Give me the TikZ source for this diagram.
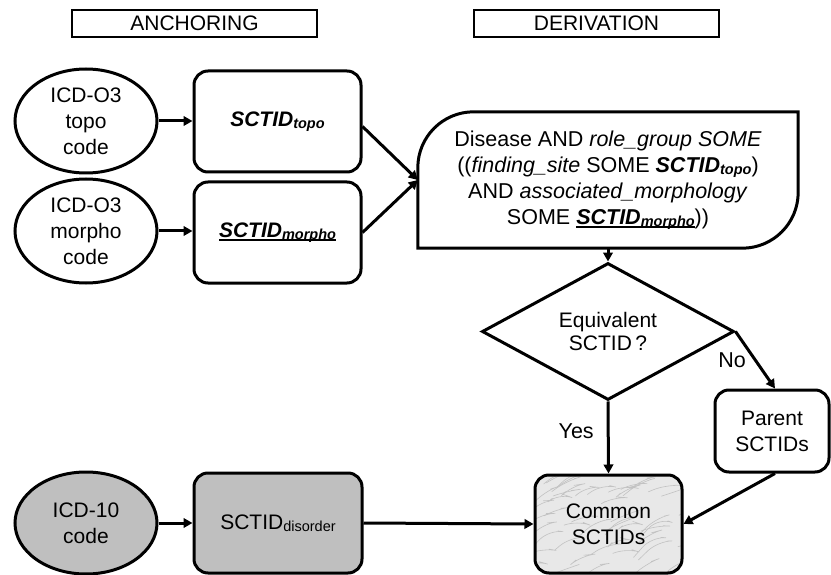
\documentclass[tikz,border=0pt]{standalone}
\usepackage{fontspec}
\setmainfont{Liberation Sans}
\usetikzlibrary{shapes.geometric,arrows.meta,calc}
\newcommand\lowsub[1]{\raisebox{-1.5pt}{\fontsize{14.5}{16}\selectfont #1}}
\newcommand\thickul[1]{\setbox0\hbox{#1}\rlap{\rule[-3.2pt]{\wd0}{1.8pt}}\box0}
\tikzset{
  lw/.style={line width=3pt},
  box/.style={draw, lw, rounded corners=14pt, align=center, inner sep=0pt,
    font=\fontsize{21}{26}\selectfont},
  oval/.style={draw, lw, ellipse, align=center, inner sep=0pt,
    minimum width=142pt, minimum height=104pt, font=\fontsize{21}{26}\selectfont},
  hdr/.style={draw, line width=2.7pt, minimum width=245pt, minimum height=27pt,
    inner sep=0pt, font=\fontsize{21}{24}\selectfont},
  arr/.style={lw, -{Triangle[length=9pt,width=9.5pt]}},
  lbl/.style={font=\fontsize{21.5}{24}\selectfont, inner sep=0pt},
  decision/.style={draw, lw, diamond, align=center, inner sep=0pt,
    minimum width=252pt, minimum height=77pt, font=\fontsize{21}{23.5}\selectfont},
  vein/.style={black!24, line width=0.6pt, line cap=round, line join=round}
}
\begin{document}
\begin{tikzpicture}[x=1pt,y=-1pt]
\useasboundingbox (0,0) rectangle (831,575);
% headers
\node[hdr] (anch) at (194.5,23.5) {ANCHORING};
\node[hdr] (deriv) at (596.5,23.5) {DERIVATION};
% anchoring inputs
\node[oval] (topoE) at (86,121) {ICD-O3\\topo\\code};
\node[box, minimum width=167pt, minimum height=101pt] (topoB) at (277.5,121.5)
  {\textbf{\textit{SCTID\lowsub{topo}}}};
\node[oval] (morphoE) at (86,231) {ICD-O3\\morpho\\code};
\node[box, minimum width=167pt, minimum height=101pt] (morphoB) at (277.5,232.5)
  {\thickul{\textbf{\textit{SCTID\lowsub{morpho}}}}};
% derivation expression
\node[align=center, inner sep=0pt, minimum width=380pt, minimum height=136pt,
  font=\fontsize{21.5}{26}\selectfont] (big) at (608,180)
  {Disease AND \textit{role\_group SOME}\\
   ((\textit{finding\_site} SOME \textbf{\textit{SCTID\lowsub{topo}}})\\
   AND \textit{associated\_morphology}\\
   SOME \thickul{\textbf{\textit{SCTID\lowsub{morpho}}}}))};
\draw[lw] (big.south west) -- ([yshift=-56pt]big.north west)
  .. controls ([yshift=-25pt]big.north west) and ([xshift=25pt]big.north west)
  .. ([xshift=56pt]big.north west) -- (big.north east)
  -- ([yshift=56pt]big.south east)
  .. controls ([yshift=25pt]big.south east) and ([xshift=-25pt]big.south east)
  .. ([xshift=-56pt]big.south east) -- cycle;
% decision
\node[decision] (dia) at (608,331.5) {Equivalent\\SCTID\,?};
\node[box, minimum width=114pt, minimum height=82pt] (parent) at (772,431)
  {Parent\\SCTIDs};
\node[box, fill=black!9, minimum width=147pt, minimum height=98pt,
  path picture={
    \pgfmathsetseed{11}
    \foreach \i in {1,...,55}{
      \pgfmathsetmacro\xa{-85+170*rnd}
      \pgfmathsetmacro\ya{-55+110*rnd}
      \pgfmathsetmacro\ll{5+16*rnd}
      \pgfmathsetmacro\sl{-0.3-0.9*rnd}
      \pgfmathsetmacro\tw{-0.5+rnd}
      \draw[vein] ([shift={(\xa,\ya)}]path picture bounding box.center)
        -- ++(\ll,\sl*\ll) -- ++(0.5*\ll,\tw*0.4*\ll);
    }
  }] (common)
  at (608.5,524) {Common\\SCTIDs};
% ICD-10 row
\node[oval, fill=black!25, minimum height=102pt] (icd) at (86,523) {ICD-10\\code};
\node[box, fill=black!25, minimum width=168pt, minimum height=100pt] (dis)
  at (278,523) {SCTID\lowsub{disorder}};
% connectors
\draw[arr] (topoE.east) -- (topoE.east -| topoB.west);
\draw[arr] (morphoE.east) -- (morphoE.east -| morphoB.west);
\draw[arr] ([yshift=-5pt]topoB.east) -- (big.west);
\draw[arr] (morphoB.east) -- (big.west);
\draw[arr] (big.south) -- (dia.north);
\draw[arr] (dia.south) -- (common.north)
  node[lbl, pos=0.41, left=13pt] {Yes};
\draw[arr] (dia.east) -- ([xshift=3pt]parent.north)
  node[lbl, midway, left=8pt] {No};
\draw[arr] ([xshift=3pt]parent.south) -- (common.east);
\draw[arr] (icd.east) -- (icd.east -| dis.west);
\draw[arr] (dis.east) -- (common.west);
\end{tikzpicture}
\end{document}
